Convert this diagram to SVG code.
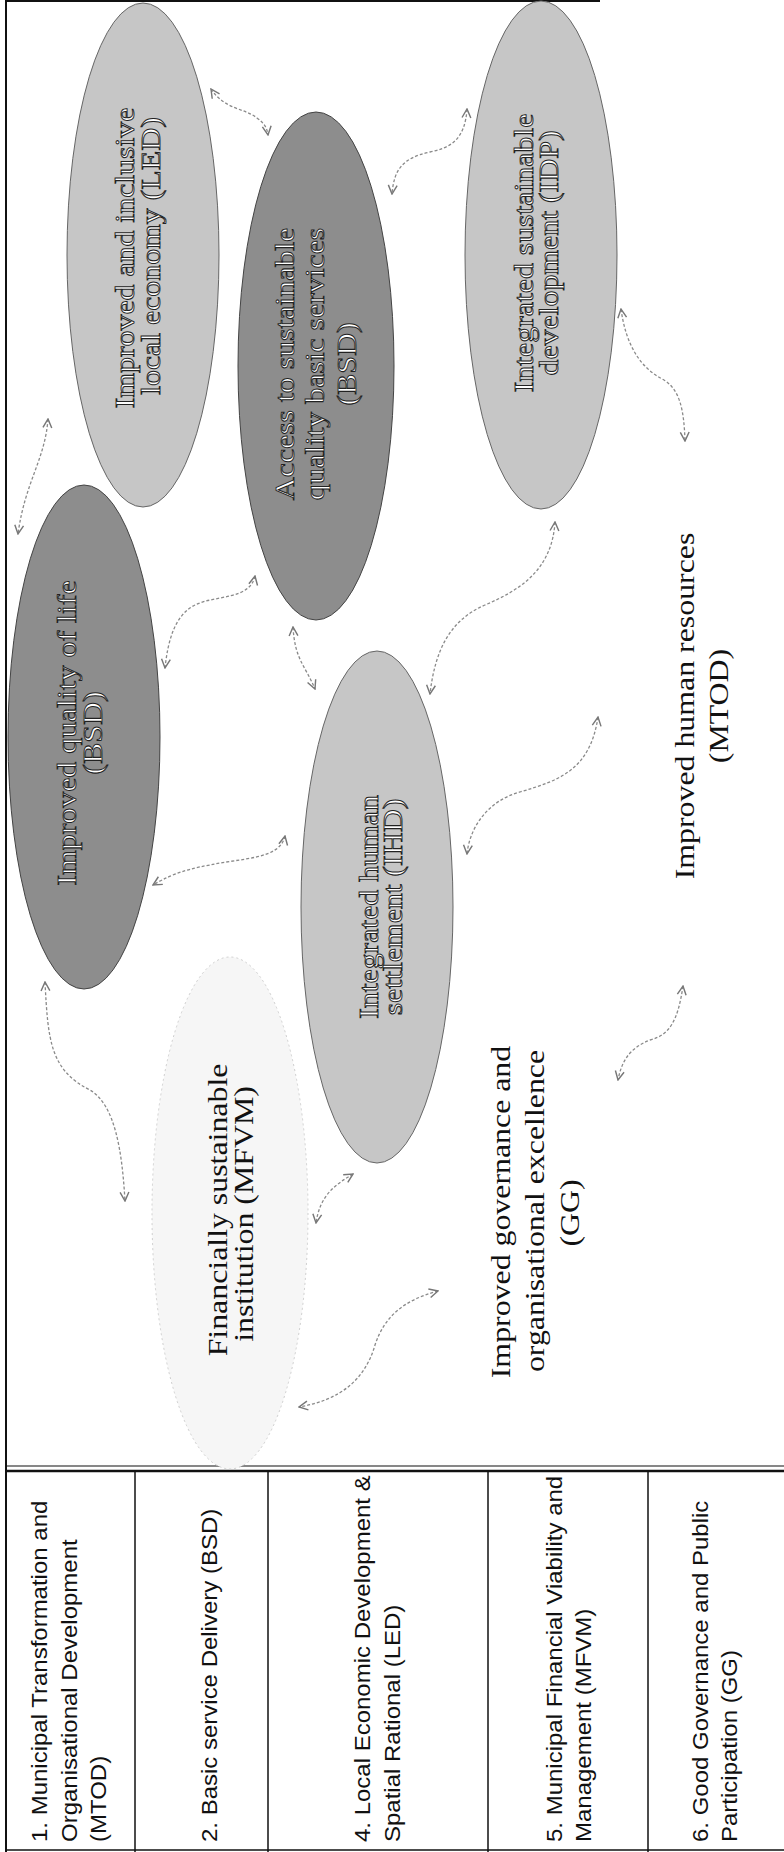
<svg xmlns="http://www.w3.org/2000/svg" width="784" height="1852" viewBox="0 0 784 1852">
<style>
.frame{fill:none;stroke:#111;stroke-width:2}
.rule{stroke:#111;stroke-width:1.5;fill:none}
.tbl{font-family:"Liberation Sans",Arial,sans-serif;font-size:24px;fill:#111}
.lbl{font-family:"Liberation Serif","Times New Roman",serif;font-size:27px;fill:#111}
.elbl{font-family:"Liberation Serif","Times New Roman",serif;font-size:27px;fill:#fff;stroke:#222;stroke-width:0.9}
.light{fill:#c6c6c6;stroke:#666;stroke-width:1}
.dark{fill:#8d8d8d;stroke:#444;stroke-width:1}
.faint{fill:#f6f6f6;stroke:#cfcfcf;stroke-width:1;stroke-dasharray:2 3}
.conn path{fill:none;stroke:#8a8a8a;stroke-width:1.3;stroke-dasharray:3 2;marker-start:url(#ah);marker-end:url(#ah)}
</style>
<defs>
<marker id="ah" viewBox="0 0 10 10" refX="9" refY="5" markerWidth="11" markerHeight="11" markerUnits="userSpaceOnUse" orient="auto-start-reverse">
<path d="M1,1 L9,5 L1,9" fill="none" stroke="#777" stroke-width="1.3"/>
</marker>
</defs>
<rect width="784" height="1852" fill="#fff"/>
<g id="frame">
<line class="frame" x1="5" y1="1" x2="600" y2="1"/>
<line class="frame" x1="6" y1="0" x2="6" y2="1852"/>
<line x1="6" y1="1466" x2="784" y2="1466" stroke="#111" stroke-width="1.2"/>
<line x1="6" y1="1471" x2="784" y2="1471" stroke="#111" stroke-width="2.5"/>
<line class="rule" x1="135" y1="1471" x2="135" y2="1852"/>
<line class="rule" x1="268" y1="1471" x2="268" y2="1852"/>
<line class="rule" x1="488" y1="1471" x2="488" y2="1852"/>
<line class="rule" x1="648" y1="1471" x2="648" y2="1852"/>
<line class="rule" x1="6" y1="1850" x2="784" y2="1850"/>
</g>
<g id="faint-F">
<ellipse class="faint" cx="230" cy="1213" rx="78" ry="256"/>
</g>
<g id="node-A">
<ellipse class="light" cx="143" cy="255" rx="76" ry="252"/>
<text class="elbl" text-anchor="middle" transform="translate(134,258) rotate(-90) scale(1.18,1)">Improved and inclusive</text>
<text class="elbl" text-anchor="middle" transform="translate(160,256) rotate(-90) scale(1.18,1)">local economy (LED)</text>
</g>
<g id="node-B">
<ellipse class="dark" cx="316" cy="366" rx="78" ry="254"/>
<text class="elbl" text-anchor="middle" transform="translate(294,364) rotate(-90) scale(1.18,1)">Access to sustainable</text>
<text class="elbl" text-anchor="middle" transform="translate(324,364) rotate(-90) scale(1.18,1)">quality basic services</text>
<text class="elbl" text-anchor="middle" transform="translate(356,364) rotate(-90) scale(1.18,1)">(BSD)</text>
</g>
<g id="node-C">
<ellipse class="light" cx="541" cy="255" rx="76" ry="254"/>
<text class="elbl" text-anchor="middle" transform="translate(533,253) rotate(-90) scale(1.18,1)">Integrated sustainable</text>
<text class="elbl" text-anchor="middle" transform="translate(558,253) rotate(-90) scale(1.18,1)">development (IDP)</text>
</g>
<g id="node-D">
<ellipse class="dark" cx="84" cy="737" rx="76" ry="252"/>
<text class="elbl" text-anchor="middle" transform="translate(76,733) rotate(-90) scale(1.18,1)">Improved quality of life</text>
<text class="elbl" text-anchor="middle" transform="translate(102,733) rotate(-90) scale(1.18,1)">(BSD)</text>
</g>
<g id="node-E">
<ellipse class="light" cx="377" cy="907" rx="76" ry="256"/>
<text class="elbl" text-anchor="middle" transform="translate(378,907) rotate(-90) scale(1.18,1)">Integrated human</text>
<text class="elbl" text-anchor="middle" transform="translate(402,907) rotate(-90) scale(1.18,1)">settlement (IHD)</text>
</g>
<g id="node-F">
<text class="lbl" text-anchor="middle" transform="translate(227,1210) rotate(-90) scale(1.18,1)">Financially sustainable</text>
<text class="lbl" text-anchor="middle" transform="translate(253,1214) rotate(-90) scale(1.18,1)">institution (MFVM)</text>
</g>
<g id="node-GG">
<text class="lbl" text-anchor="middle" transform="translate(510,1212) rotate(-90) scale(1.18,1)">Improved governance and</text>
<text class="lbl" text-anchor="middle" transform="translate(544,1211) rotate(-90) scale(1.18,1)">organisational excellence</text>
<text class="lbl" text-anchor="middle" transform="translate(579,1213) rotate(-90) scale(1.18,1)">(GG)</text>
</g>
<g id="node-MTOD">
<text class="lbl" text-anchor="middle" transform="translate(694,706) rotate(-90) scale(1.18,1)">Improved human resources</text>
<text class="lbl" text-anchor="middle" transform="translate(728,706) rotate(-90) scale(1.18,1)">(MTOD)</text>
</g>
<g class="conn" id="connectors">
<path d="M211,89 C225,110 245,108 257,118 C265,124 267,128 268,135"/>
<path d="M467,109 C465,140 450,148 430,152 C402,158 394,170 392,194"/>
<path d="M621,309 C626,345 640,368 664,380 C680,390 684,410 685,441"/>
<path d="M48,419 C45,460 25,482 18,534"/>
<path d="M255,576 C250,600 215,595 195,605 C175,615 168,640 165,668"/>
<path d="M293,627 C295,660 305,665 315,689"/>
<path d="M555,522 C552,570 520,590 485,605 C450,620 435,650 430,694"/>
<path d="M285,836 C280,860 240,858 210,865 C180,870 165,878 153,885"/>
<path d="M598,717 C590,770 560,780 520,792 C490,800 470,825 467,854"/>
<path d="M45,982 C48,1040 50,1070 90,1090 C115,1105 122,1150 125,1201"/>
<path d="M353,1174 C335,1185 320,1195 316,1223"/>
<path d="M438,1291 C405,1300 385,1315 375,1345 C365,1380 340,1400 299,1407"/>
<path d="M683,986 C678,1020 670,1035 650,1040 C630,1048 622,1060 618,1080"/>
</g>
<g id="table">
<g id="row-1">
<text class="tbl" transform="translate(47,1842) rotate(-90) scale(1,0.92)">1. Municipal Transformation and</text>
<text class="tbl" transform="translate(77,1842) rotate(-90) scale(1,0.92)">Organisational Development</text>
<text class="tbl" transform="translate(106,1842) rotate(-90) scale(1,0.92)">(MTOD)</text>
</g>
<g id="row-2">
<text class="tbl" transform="translate(217,1842) rotate(-90) scale(1,0.92)">2. Basic service Delivery (BSD)</text>
</g>
<g id="row-4">
<text class="tbl" transform="translate(370,1842) rotate(-90) scale(1,0.92)">4. Local Economic Development &amp;</text>
<text class="tbl" transform="translate(400,1842) rotate(-90) scale(1,0.92)">Spatial Rational (LED)</text>
</g>
<g id="row-5">
<text class="tbl" transform="translate(562,1842) rotate(-90) scale(1,0.92)">5. Municipal Financial Viability and</text>
<text class="tbl" transform="translate(591,1842) rotate(-90) scale(1,0.92)">Management (MFVM)</text>
</g>
<g id="row-6">
<text class="tbl" transform="translate(708,1842) rotate(-90) scale(1,0.92)">6. Good Governance and Public</text>
<text class="tbl" transform="translate(737,1842) rotate(-90) scale(1,0.92)">Participation (GG)</text>
</g>
</g>
</svg>
